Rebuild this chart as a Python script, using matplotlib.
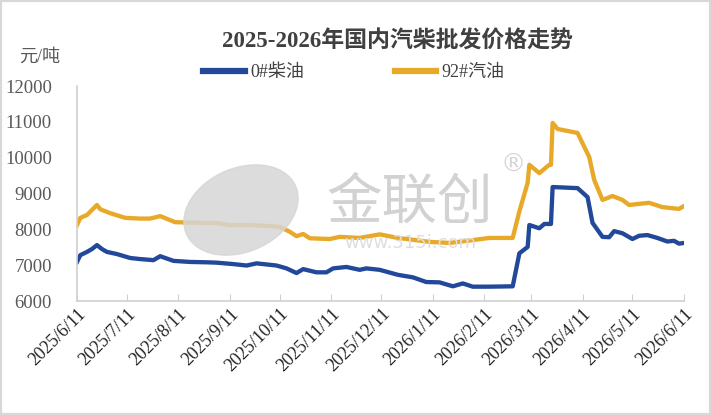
import pandas as pd
import matplotlib
matplotlib.use("Agg")
import matplotlib.pyplot as plt
import matplotlib.dates as mdates
from matplotlib.ticker import FuncFormatter
from matplotlib.patches import Ellipse, Rectangle

plt.rcParams['font.family'] = ['Liberation Serif', 'Noto Sans CJK SC', 'DejaVu Sans']

# 0#柴油
diesel_dates = ['2025-06-11', '2025-06-13', '2025-06-17', '2025-06-20', '2025-06-23', '2025-06-26',
                '2025-06-29', '2025-07-05', '2025-07-13', '2025-07-19', '2025-07-27', '2025-07-31',
                '2025-08-08', '2025-08-18', '2025-08-28', '2025-09-03', '2025-09-13', '2025-09-21',
                '2025-09-27', '2025-10-09', '2025-10-15', '2025-10-21', '2025-10-25', '2025-11-02',
                '2025-11-08', '2025-11-12', '2025-11-20', '2025-11-28', '2025-12-02', '2025-12-10',
                '2025-12-21', '2025-12-30', '2026-01-07', '2026-01-15', '2026-01-23', '2026-01-29',
                '2026-02-04', '2026-02-14', '2026-02-28', '2026-03-04', '2026-03-09', '2026-03-10',
                '2026-03-16', '2026-03-19', '2026-03-23', '2026-03-24', '2026-04-08', '2026-04-14',
                '2026-04-17', '2026-04-23', '2026-04-27', '2026-04-30', '2026-05-05', '2026-05-11',
                '2026-05-15', '2026-05-20', '2026-05-26', '2026-06-01', '2026-06-05', '2026-06-08',
                '2026-06-11']
diesel = [7090, 7280, 7370, 7450, 7560, 7450,
          7370, 7310, 7200, 7170, 7140, 7250,
          7120, 7090, 7080, 7070, 7030, 6990,
          7050, 6990, 6910, 6780, 6890, 6800,
          6800, 6910, 6950, 6870, 6910, 6870,
          6730, 6660, 6530, 6520, 6410, 6490,
          6400, 6400, 6410, 7330, 7510, 8120,
          8030, 8150, 8150, 9180, 9150, 8900,
          8180, 7790, 7780, 7950, 7890, 7730,
          7820, 7840, 7760, 7660, 7680, 7600,
          7620]

# 92#汽油
gas_dates = ['2025-06-11', '2025-06-13', '2025-06-17', '2025-06-23', '2025-06-25', '2025-07-01',
             '2025-07-10', '2025-07-19', '2025-07-25', '2025-07-31', '2025-08-09', '2025-08-24',
             '2025-09-02', '2025-09-11', '2025-09-23', '2025-10-05', '2025-10-11', '2025-10-17',
             '2025-10-21', '2025-10-25', '2025-10-29', '2025-11-10', '2025-11-16', '2025-11-28',
             '2025-12-10', '2025-12-21', '2026-01-09', '2026-01-21', '2026-02-04', '2026-02-14',
             '2026-02-28', '2026-03-04', '2026-03-09', '2026-03-10', '2026-03-16', '2026-03-22',
             '2026-03-23', '2026-03-24', '2026-03-27', '2026-04-08', '2026-04-11', '2026-04-15',
             '2026-04-18', '2026-04-23', '2026-04-29', '2026-05-05', '2026-05-09', '2026-05-21',
             '2026-05-29', '2026-06-08', '2026-06-11']
gasoline = [8120, 8320, 8400, 8680, 8560, 8450,
            8320, 8300, 8300, 8370, 8200, 8180,
            8180, 8120, 8120, 8090, 8070, 7930,
            7810, 7870, 7750, 7730, 7790, 7760,
            7860, 7760, 7650, 7620, 7700, 7760,
            7760, 8500, 9300, 9800, 9570, 9800,
            9800, 10970, 10800, 10690, 10400, 10020,
            9380, 8820, 8930, 8820, 8680, 8740,
            8620, 8570, 8650]

BLUE = '#22489a'
GOLD = '#e8a828'

fig = plt.figure(figsize=(7.11, 4.15), dpi=100)
ax = fig.add_axes([77 / 711, 1 - 301 / 415, (684 - 77) / 711, (301 - 86) / 415])

# watermark behind the lines
fig.patches.append(Ellipse((241 / 711, 1 - 210 / 415), 0.15, 0.225, angle=-20,
                           transform=fig.transFigure, color='#d6d6d6', alpha=0.85, zorder=0))
fig.text(410 / 711, 1 - 203 / 415, '金联创', fontsize=40, color='#d2d2d2',
         family=['Noto Sans CJK SC'], ha='center', va='center', zorder=0)
fig.text(410 / 711, 1 - 243 / 415, 'www.315i.com', fontsize=13, color='#dedede',
         family=['DejaVu Sans'], ha='center', va='center', zorder=0)
fig.text(513 / 711, 1 - 165 / 415, '®', fontsize=18, color='#d4d4d4',
         family=['DejaVu Sans'], ha='center', va='center', zorder=0)
ax.patch.set_alpha(0)

ax.plot(pd.to_datetime(diesel_dates), diesel, color=BLUE, lw=3.1, label='0#柴油',
        solid_joinstyle='round')
ax.plot(pd.to_datetime(gas_dates), gasoline, color=GOLD, lw=3.1, label='92#汽油',
        solid_joinstyle='round')

ax.set_xlim(pd.Timestamp('2025-06-11'), pd.Timestamp('2026-06-11'))
ax.set_ylim(6000, 12000)
ax.set_yticks(range(6000, 12001, 1000))
ax.xaxis.set_major_locator(mdates.MonthLocator(bymonthday=11))
ax.xaxis.set_major_formatter(FuncFormatter(
    lambda v, p: '{d.year}/{d.month}/{d.day}'.format(d=mdates.num2date(v))))

for s in ['top', 'right']:
    ax.spines[s].set_visible(False)
for s in ['left', 'bottom']:
    ax.spines[s].set_color('#d0d0d0')
    ax.spines[s].set_linewidth(1.2)
ax.tick_params(axis='y', length=0, labelsize=13.5, labelcolor='#595959', pad=18)
ax.tick_params(axis='x', length=5, color='#d0d0d0', labelsize=13, labelcolor='#222222',
               direction='in', pad=3)
for lab in ax.get_xticklabels():
    lab.set_rotation(45)
    lab.set_ha('right')
    lab.set_rotation_mode('anchor')

fig.text(397 / 711, 1 - 42 / 415, '2025-2026年国内汽柴批发价格走势', fontsize=16.5,
         color='#404040', ha='center', va='center', fontweight='bold')
fig.text(40 / 711, 1 - 57 / 415, '元/吨', fontsize=13, color='#595959',
         ha='center', va='center')

leg = ax.legend(loc='center', bbox_to_anchor=(354 / 711, 1 - 73 / 415),
                bbox_transform=fig.transFigure, ncol=2, frameon=False, fontsize=13,
                handlelength=2.3, columnspacing=5.0, handletextpad=0.3, labelcolor='#404040')
for h in leg.get_lines():
    h.set_linewidth(4.5)

fig.patches.append(Rectangle((0, 0), 1, 1, transform=fig.transFigure, fill=False,
                             edgecolor='#d8d8d8', lw=3, zorder=10))

plt.savefig('out.png', dpi=100)
